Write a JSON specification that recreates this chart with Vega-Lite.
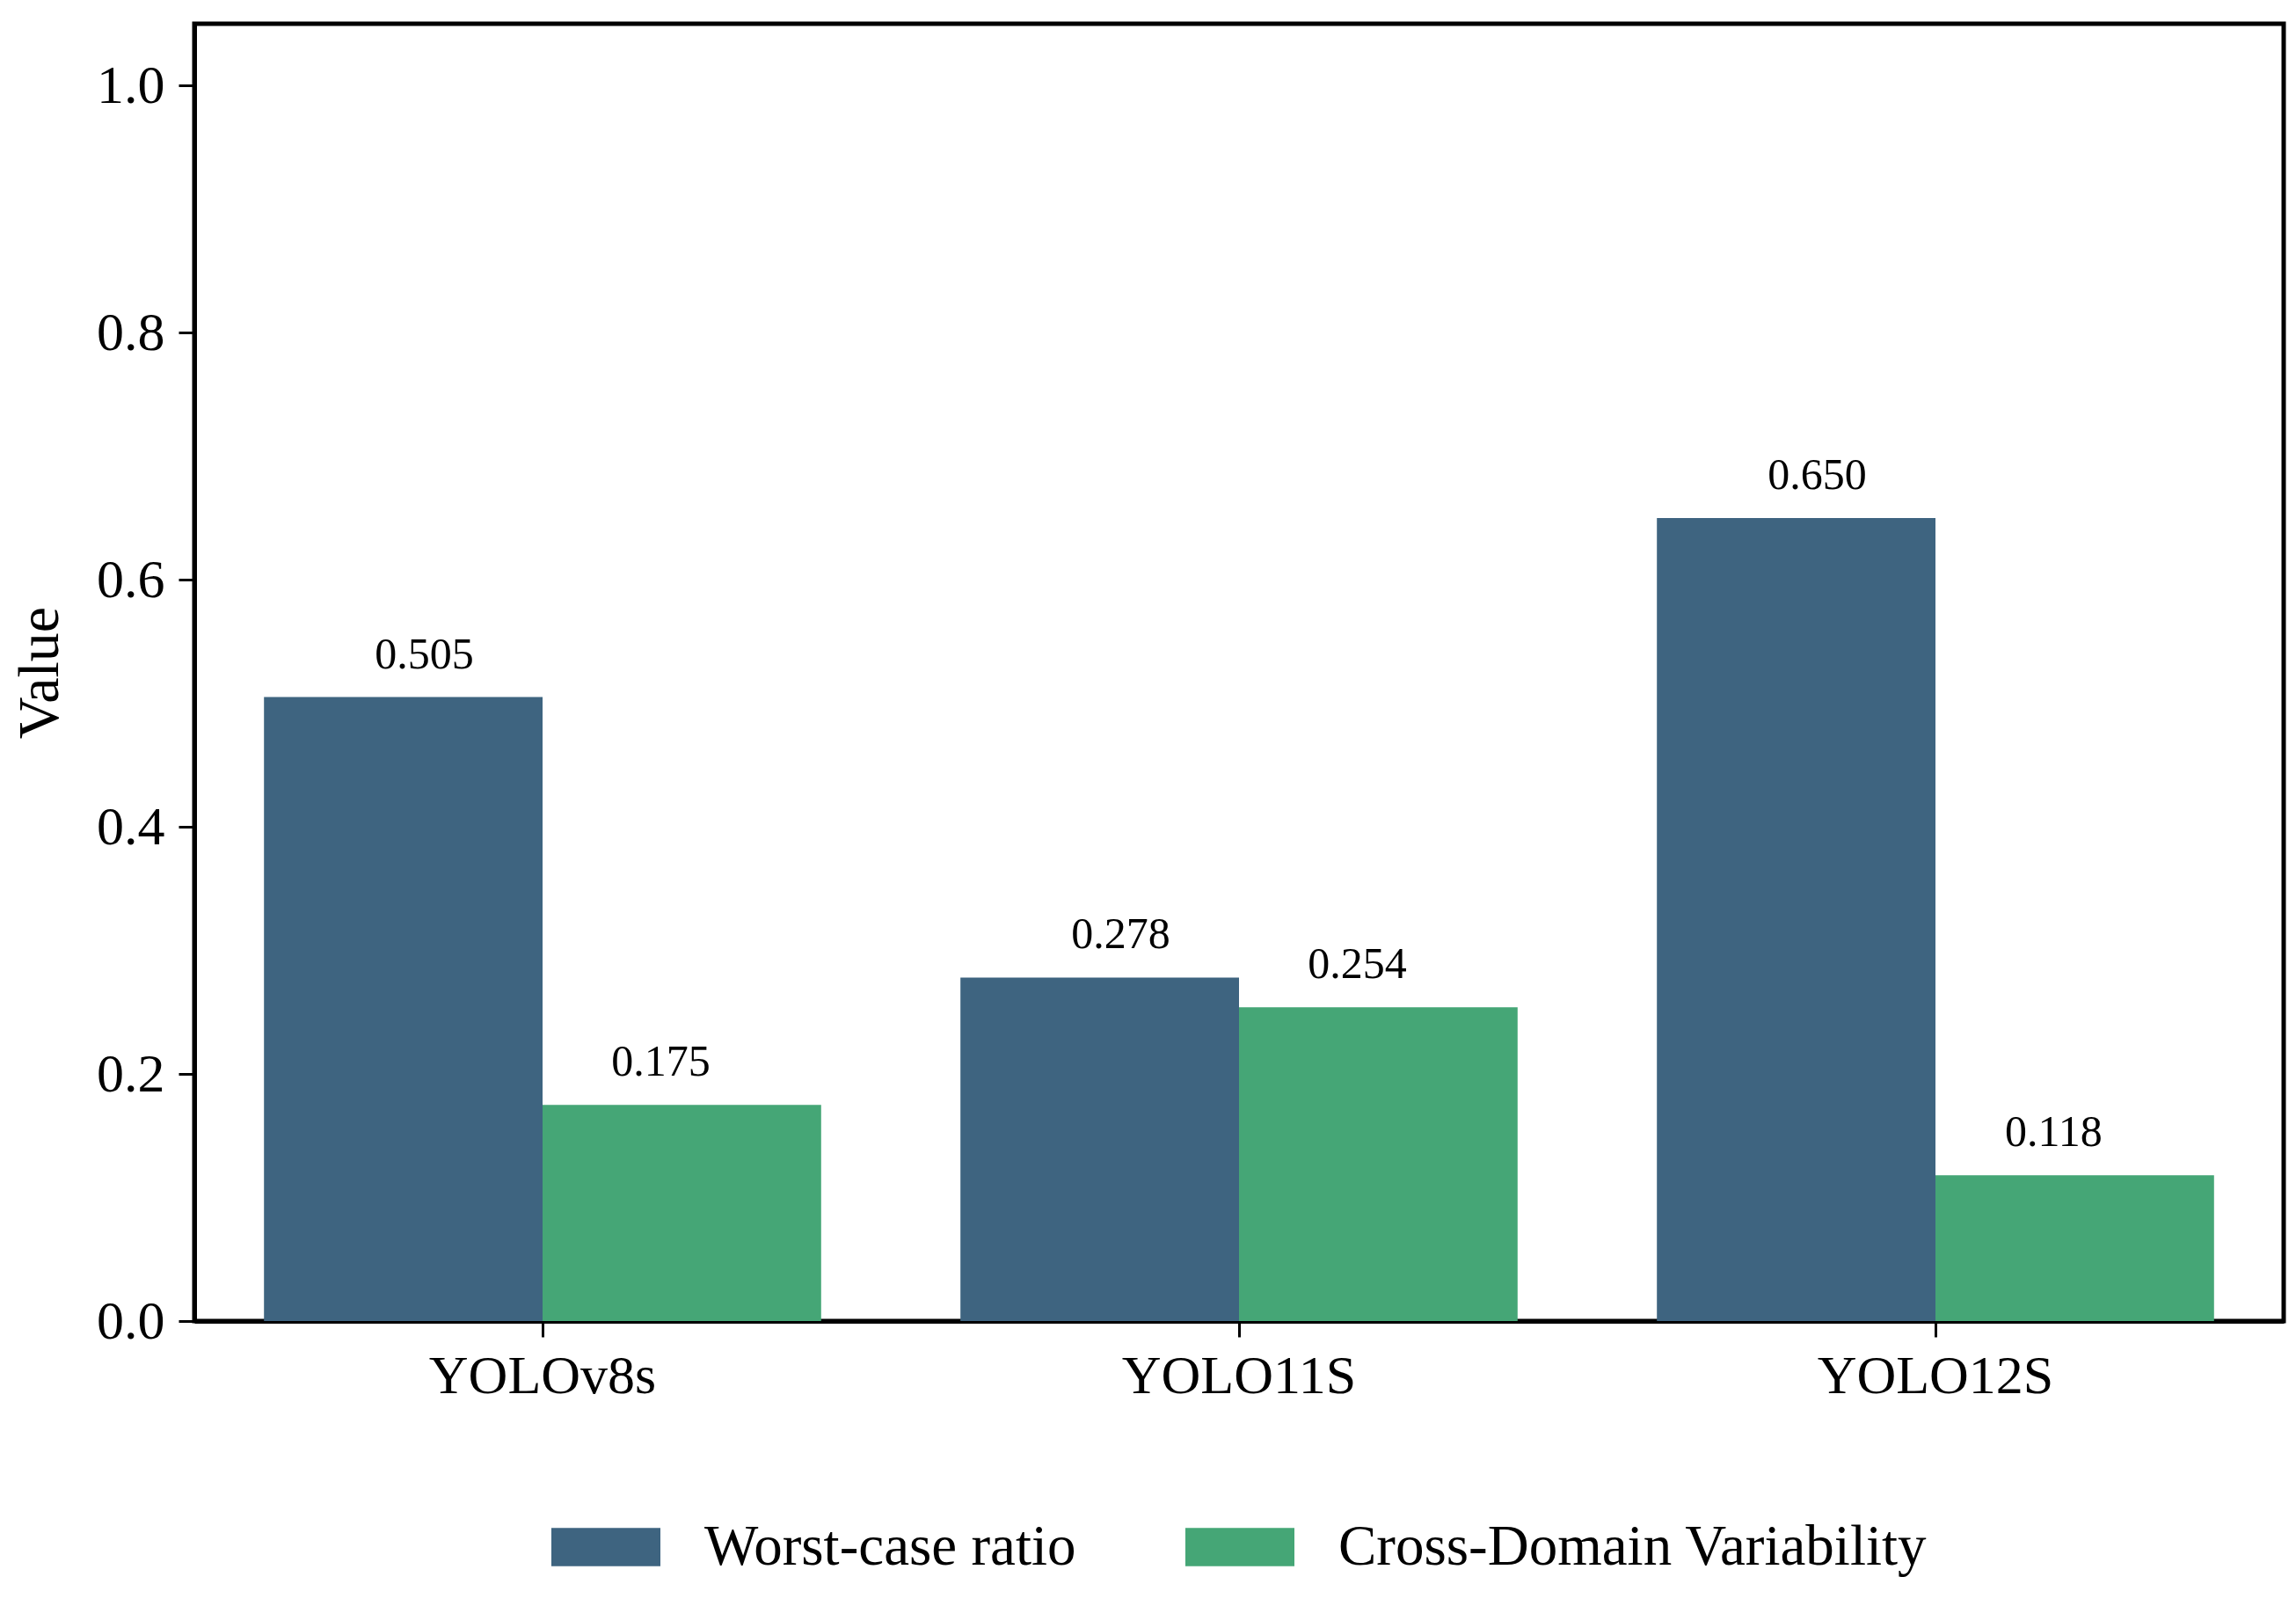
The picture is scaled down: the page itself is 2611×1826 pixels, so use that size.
{
  "$schema": "https://vega.github.io/schema/vega-lite/v6.json",
  "width": 2376,
  "height": 1475,
  "autosize": {"type": "none"},
  "padding": {"left": 221, "top": 27, "right": 14, "bottom": 324},
  "background": "white",
  "data": {
    "values": [
      {"model": "YOLOv8s", "metric": "Worst-case ratio", "value": 0.505},
      {"model": "YOLOv8s", "metric": "Cross-Domain Variability", "value": 0.175},
      {"model": "YOLO11S", "metric": "Worst-case ratio", "value": 0.278},
      {"model": "YOLO11S", "metric": "Cross-Domain Variability", "value": 0.254},
      {"model": "YOLO12S", "metric": "Worst-case ratio", "value": 0.650},
      {"model": "YOLO12S", "metric": "Cross-Domain Variability", "value": 0.118}
    ]
  },
  "encoding": {
    "x": {
      "field": "model", "type": "nominal", "sort": null,
      "scale": {"paddingInner": 0.2, "paddingOuter": 0.1},
      "axis": {"title": null, "labelAngle": 0, "labelPadding": 14, "labelLimit": 1000}
    },
    "y": {
      "field": "value", "type": "quantitative",
      "scale": {"domain": [0, 1.05], "nice": false, "zero": true},
      "axis": {
        "title": "Value",
        "values": [0, 0.2, 0.4, 0.6, 0.8, 1.0],
        "format": ".1f",
        "grid": false,
        "labelPadding": 16,
        "titlePadding": 30
      }
    }
  },
  "layer": [
    {
      "mark": {"type": "bar"},
      "encoding": {
        "xOffset": {
          "field": "metric", "type": "nominal",
          "sort": ["Worst-case ratio", "Cross-Domain Variability"],
          "scale": {"paddingInner": 0, "paddingOuter": 0}
        },
        "color": {
          "field": "metric", "type": "nominal",
          "sort": ["Worst-case ratio", "Cross-Domain Variability"],
          "scale": {
            "domain": ["Worst-case ratio", "Cross-Domain Variability"],
            "range": ["#3e6480", "#45a676"]
          },
          "legend": {
            "title": null,
            "orient": "bottom",
            "direction": "horizontal",
            "columns": 2,
            "symbolType": "M-1,-0.35H1V0.35H-1Z",
            "symbolSize": 15376,
            "symbolStrokeWidth": 0,
            "symbolOpacity": 1,
            "labelOffset": 50,
            "columnPadding": 124,
            "labelFontSize": 65,
            "labelFont": "Liberation Serif",
            "labelColor": "#000000",
            "offset": 102,
            "labelLimit": 1000
          }
        }
      }
    },
    {
      "transform": [{"filter": "datum.metric === 'Worst-case ratio'"}],
      "mark": {"type": "text", "baseline": "alphabetic", "dy": -33, "dx": 24, "fontSize": 50, "font": "Liberation Serif", "color": "#000000"},
      "encoding": {
        "xOffset": {
          "field": "metric", "type": "nominal",
          "sort": ["Worst-case ratio", "Cross-Domain Variability"],
          "scale": {"domain": ["Worst-case ratio", "Cross-Domain Variability"], "paddingInner": 0, "paddingOuter": 0}
        },
        "text": {"field": "value", "type": "quantitative", "format": ".3f"}
      }
    },
    {
      "transform": [{"filter": "datum.metric === 'Cross-Domain Variability'"}],
      "mark": {"type": "text", "baseline": "alphabetic", "dy": -33, "dx": -24, "fontSize": 50, "font": "Liberation Serif", "color": "#000000"},
      "encoding": {
        "xOffset": {
          "field": "metric", "type": "nominal",
          "sort": ["Worst-case ratio", "Cross-Domain Variability"],
          "scale": {"domain": ["Worst-case ratio", "Cross-Domain Variability"], "paddingInner": 0, "paddingOuter": 0}
        },
        "text": {"field": "value", "type": "quantitative", "format": ".3f"}
      }
    }
  ],
  "config": {
    "font": "Liberation Serif",
    "view": {"stroke": "#000000", "strokeWidth": 5},
    "axis": {
      "domainColor": "#000000",
      "domainWidth": 5,
      "tickColor": "#000000",
      "tickWidth": 3,
      "tickSize": 18,
      "labelFontSize": 62,
      "labelColor": "#000000",
      "labelFont": "Liberation Serif",
      "titleFontSize": 66,
      "titleFont": "Liberation Serif",
      "titleFontWeight": "normal",
      "titleColor": "#000000"
    },
    "legend": {
      "layout": {"bottom": {"anchor": "middle"}}
    }
  }
}
